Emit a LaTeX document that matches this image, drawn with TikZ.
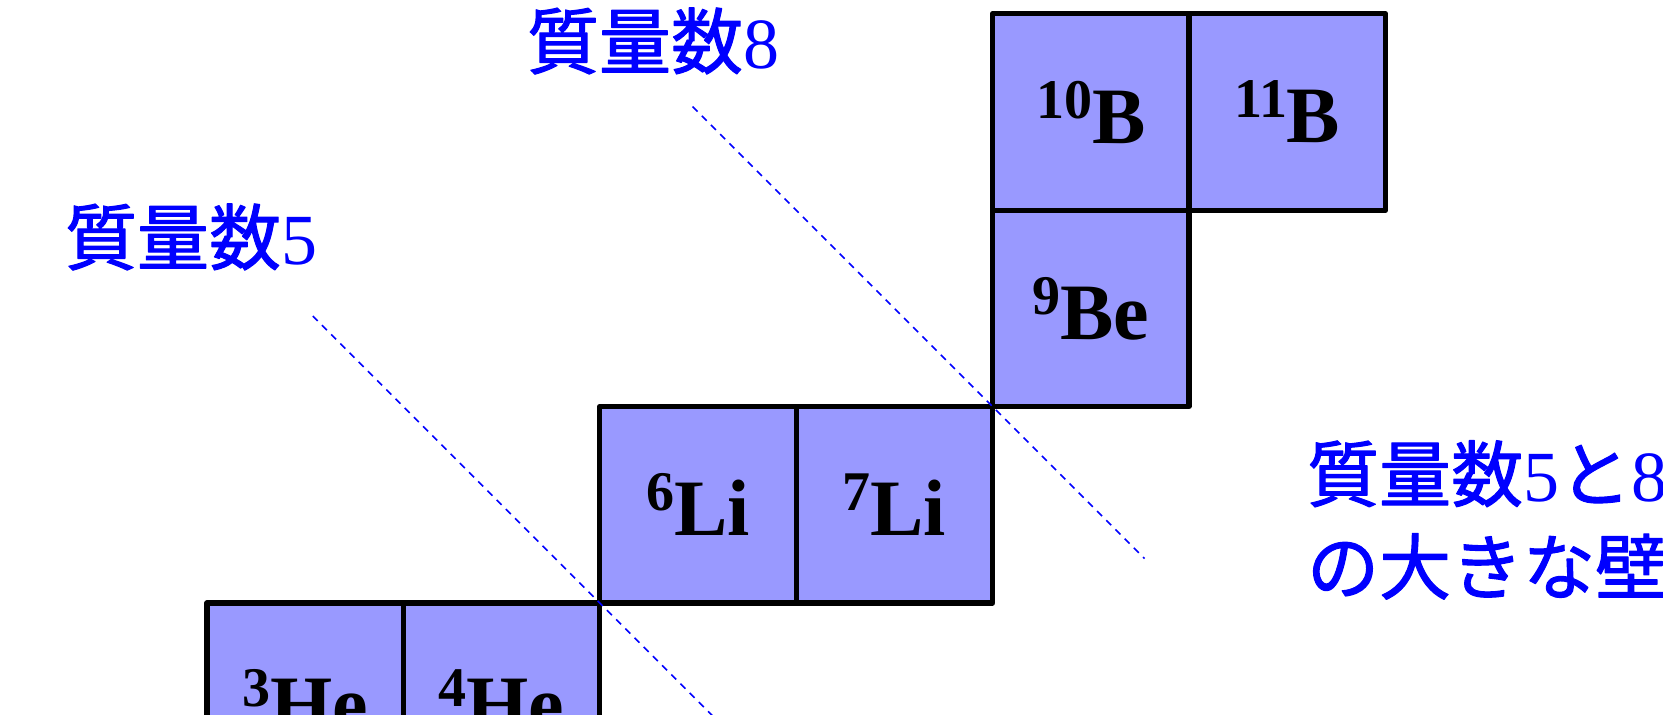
\documentclass[tikz,border=0pt]{standalone}
\usepackage{fontspec}
\setmainfont{Liberation Serif}
\newfontfamily\jpfont[FakeBold=1.5]{Noto Sans CJK JP}
\usetikzlibrary{calc,positioning}
\definecolor{NCfill}{HTML}{9999FF}
\definecolor{NCblue}{HTML}{0000FF}
\newcommand{\nuclide}[2]{\raisebox{12.5pt}{\fontsize{28}{28}\selectfont #1}#2}

\begin{document}
\begin{tikzpicture}[
  x=0.5pt,y=0.5pt,
  line join=round,
  cell/.style={draw=black,line width=2.6pt,fill=NCfill,
    minimum width=98.2pt,minimum height=98.2pt,inner sep=0pt,outer sep=0pt,
    font=\fontsize{40}{40}\selectfont\bfseries},
  wall/.style={draw=NCblue,line width=0.75pt,dash pattern=on 3.5pt off 3pt},
  jplabel/.style={text=NCblue,font=\fontsize{36}{46.4}\selectfont\jpfont,inner sep=0pt}
]
\clip (0,0) rectangle (1663,714);

% staircase of stable nuclei, cells share their edges
\node[cell] (he3) at (305.2,12.8) {\nuclide{3}{He}};
\node[cell,right=0pt of he3] (he4) {\nuclide{4}{He}};
\node[cell,above right=0pt and 0pt of he4] (li6) {\nuclide{6}{Li}};
\node[cell,right=0pt of li6] (li7) {\nuclide{7}{Li}};
\node[cell,above right=0pt and 0pt of li7] (be9) {\nuclide{9}{Be}};
\node[cell,above=0pt of be9] (b10) {\nuclide{10}{B}};
\node[cell,right=0pt of b10] (b11) {\nuclide{11}{B}};

% mass gaps at A=5 and A=8
\coordinate (gap5) at (li6.south west);
\coordinate (gap8) at (be9.south west);
\draw[wall] ($(gap5)+(-287,287)$) -- ($(gap5)+(140,-140)$);
\draw[wall] ($(gap8)+(-300,300)$) -- ($(gap8)+(152,-152)$);

\node[jplabel] (mass8) at (653,673) {質量数{\rmfamily 8}};
\node[jplabel] (mass5) at (191,477) {質量数{\rmfamily 5}};
\node[jplabel,anchor=west,align=left] (wallnote) at (1306.7,194)
  {質量数{\rmfamily 5}と{\rmfamily 8}\\の大きな壁};

\end{tikzpicture}
\end{document}
